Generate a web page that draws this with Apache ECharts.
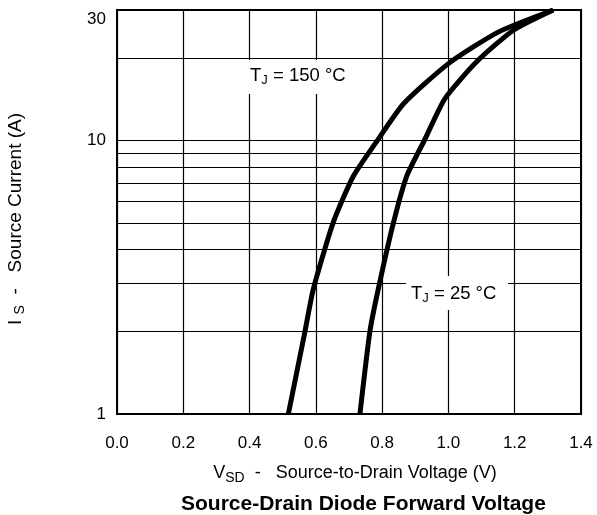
<!DOCTYPE html>
<html><head><meta charset="utf-8">
<script src="https://cdn.jsdelivr.net/npm/echarts@6/dist/echarts.min.js"></script>
<style>html,body{margin:0;padding:0;background:#fff}#c{width:597px;height:515px}</style>
</head><body><div id="c"></div>
<script>
// Data (VSD in V, IS in A)
const curve150 = [[0.517,1],[0.567,2],[0.592,2.85],[0.652,5],[0.713,7.4],[0.788,10.1],[0.864,13.6],[1.0,19.1],[1.15,24.9],[1.316,30]];
const curve25 = [[0.733,1],[0.763,2],[0.788,2.85],[0.834,5],[0.874,7.4],[0.929,10.1],[0.989,14.2],[1.085,19.4],[1.196,25.3],[1.316,30]];
const yGridValues = [1,2,3,4,5,6,7,8,9,10,20,30];
const yLabelValues = [1,10,30];
const xMin = 0, xMax = 1.4, xStep = 0.2;
const FONT = 'Arial, "Liberation Sans", Helvetica, sans-serif';

const chart = echarts.init(document.getElementById('c'));
chart.setOption({
  animation: false,
  title: {
    text: 'Source-Drain Diode Forward Voltage',
    left: 176, top: 489,
    textStyle: {fontFamily: FONT, fontSize: 21, fontWeight: 'bold', color: '#000'}
  },
  grid: {left: 117, right: 16, top: 10, bottom: 101, show: true, borderColor: '#000', borderWidth: 2,
         outerBoundsMode: 'none', containLabel: false},
  xAxis: {
    type: 'value', min: xMin, max: xMax, interval: xStep,
    name: '{t|V}{s|SD}{t|  -   Source-to-Drain Voltage (V)}',
    nameLocation: 'middle', nameGap: 48,
    nameTextStyle: {padding: [0, 0, 0, 12], rich: {
      t: {fontFamily: FONT, fontSize: 18, color: '#000'},
      s: {fontFamily: FONT, fontSize: 14, color: '#000', padding: [9, 0, 0, 0]}
    }},
    axisLine: {show: false}, axisTick: {show: false},
    axisLabel: {fontFamily: FONT, fontSize: 17, color: '#000', margin: 21, formatter: v => v.toFixed(1)},
    splitLine: {show: true, lineStyle: {color: '#000', width: 1.2}}
  },
  yAxis: {
    type: 'log', min: 1, max: 30, logBase: 10,
    name: '{t|I }{s|S}{t|  -   Source Current (A)}',
    nameLocation: 'middle', nameGap: 90,
    nameTextStyle: {padding: [0, 14, 0, 0], rich: {
      t: {fontFamily: FONT, fontSize: 19, color: '#000'},
      s: {fontFamily: FONT, fontSize: 14, color: '#000', padding: [9, 0, 0, 0]}
    }},
    axisLine: {show: false},
    axisTick: {show: false, customValues: yGridValues},
    axisLabel: {fontFamily: FONT, fontSize: 17, color: '#000', margin: 11, customValues: yLabelValues,
      formatter: v => v === 30 ? '{hi|30}' : String(v),
      rich: {hi: {fontFamily: FONT, fontSize: 17, color: '#000', padding: [19, 0, 0, 0]}}},
    splitLine: {show: true, lineStyle: {color: '#000', width: 1.2}}
  },
  graphic: [
    {type: 'rect', shape: {x: 241, y: 60, width: 113, height: 34}, style: {fill: '#fff'}, z: 10},
    {type: 'text', x: 250, y: 76, z: 11, style: {
      text: '{t|T}{s|J}{t| = 150 °C}', verticalAlign: 'middle',
      rich: {t: {fontFamily: FONT, fontSize: 18.5, fill: '#000'}, s: {fontFamily: FONT, fontSize: 13, fill: '#000', padding: [9,0,0,0]}}
    }},
    {type: 'rect', shape: {x: 406, y: 276, width: 102, height: 34}, style: {fill: '#fff'}, z: 10},
    {type: 'text', x: 411, y: 294, z: 11, style: {
      text: '{t|T}{s|J}{t| = 25 °C}', verticalAlign: 'middle',
      rich: {t: {fontFamily: FONT, fontSize: 18.5, fill: '#000'}, s: {fontFamily: FONT, fontSize: 13, fill: '#000', padding: [9,0,0,0]}}
    }}
  ],
  series: [
    {name: 'TJ = 150 °C', type: 'line', data: curve150, showSymbol: false, smooth: 0.2, z: 20,
     lineStyle: {color: '#000', width: 5}},
    {name: 'TJ = 25 °C', type: 'line', data: curve25, showSymbol: false, smooth: 0.2, z: 20,
     lineStyle: {color: '#000', width: 5}}
  ]
});
</script></body></html>
